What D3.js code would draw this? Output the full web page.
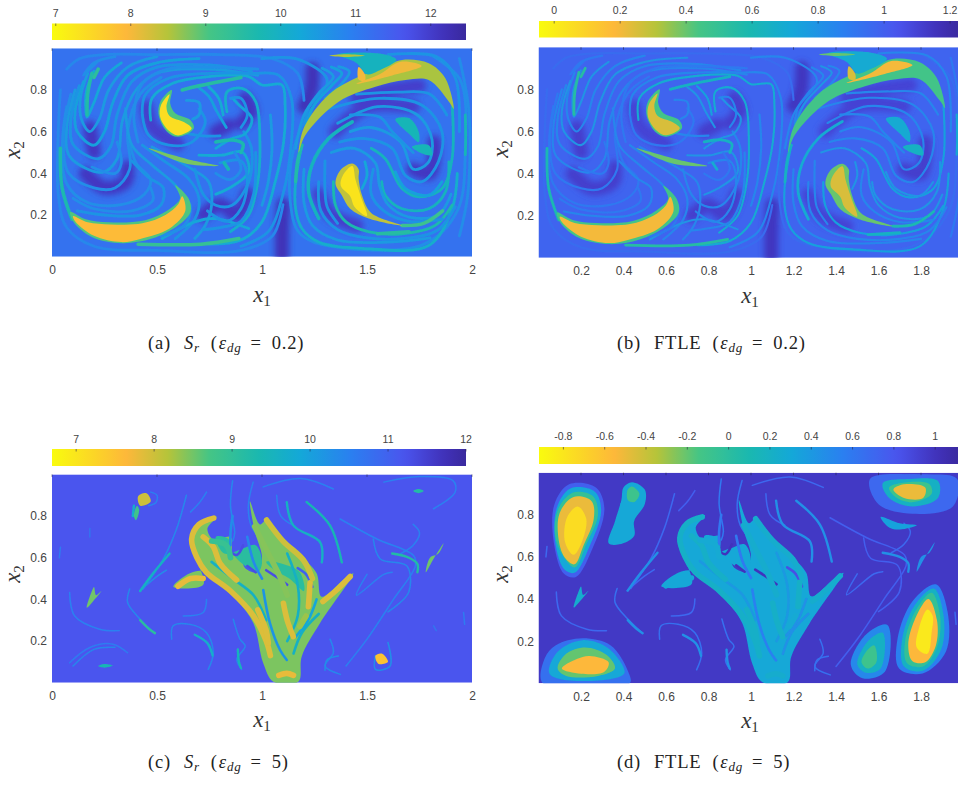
<!DOCTYPE html>
<html><head><meta charset="utf-8">
<script src="https://cdn.jsdelivr.net/npm/d3@7"></script>
<style>html,body{margin:0;padding:0;background:#fff;overflow:hidden}svg{display:block}</style>
</head><body><svg id="fig" width="958" height="785"></svg>
<script>
// ---------- values ----------
// Row format: [value in panel 1, value in panel 2, x1, x2, x1, x2, ...]
const topShade = [
 [12.2,1.15, 1.095,0.0,1.095,0.1,1.1,0.25],
 [12.2,1.15, 1.2,.72,1.235,.8,1.24,.9],
 [12.1,1.12, .16,.4,.25,.33,.35,.36,.36,.43],
 [12.1,1.12, .18,.62,.2,.5],
 [12.1,1.12, .72,.2,.8,.25,.88,.2,.93,.3],
 [12.1,1.12, .9,.64,.95,.7,.92,.76],
 [12.1,1.12, .78,.6,.84,.63],
 [12,1.1, 1.35,.6,1.5,.72,1.72,.72],
 [12,1.1, 1.27,.3,1.33,.2,1.45,.15],
 [12.1,1.12, 1.72,.42,1.8,.4,1.82,.55],
 [12,1.1, .45,.72,.48,.62,.6,.54],
 [12,1.1, 1.45,.76,1.6,.8,1.75,.82]
];
const topThin = [
 [10.3,.8, .2,.89,.165,.8,.16,.72,.167,.67,.2,.74,.25,.86,.33,.93],
 [10.5,.85, .17,.88,.135,.76,.14,.66,.18,.6,.225,.66,.27,.8,.36,.91,.5,.96],
 [10.4,.8, .15,.84,.11,.7,.12,.6,.2,.535,.25,.6,.29,.74,.36,.87,.5,.93,.7,.95],
 [10.6,.85, .13,.82,.09,.66,.1,.54,.22,.47,.28,.53,.31,.68,.38,.84,.5,.91,.75,.92,.95,.89],
 [10.5,.85, .11,.8,.07,.62,.085,.48,.24,.405,.31,.47,.335,.65,.4,.8,.5,.88,.75,.9,.98,.87],
 [10.7,.9, .09,.78,.055,.58,.08,.4,.2,.33,.3,.33,.37,.42,.36,.6,.42,.78,.52,.86],
 [10.7,.9, .07,.72,.05,.55,.07,.35,.17,.26,.33,.25,.44,.3,.47,.37,.4,.45,.37,.55],
 [10.8,.95, .07,.9,.13,.95,.25,.97,.5,.97,.8,.97,1.05,.95,1.17,.88,1.2,.75],
 [10.8,.95, .04,.8,.03,.6,.03,.3,.07,.14,.2,.05,.5,.03,.9,.03,1.05,.1,1.1,.25],
 [10.2,.7, .47,.655,.476,.76,.57,.83,.746,.864,.937,.864,1,.824,1.095,.824,1.11,.727,1.103,.55,1.063,.36,1,.167,.9,.08,.75,.06],
 [10.6,.85, .43,.68,.444,.776,.556,.856,.75,.88,.95,.88,1.08,.87,1.14,.76,1.14,.55,1.1,.3,1.03,.12,.9,.05],
 [10.6,.9, .7,.71,.73,.647,.667,.55,.556,.535,.46,.583,.43,.68],
 [10.5,.85, .35,.71,.38,.535,.476,.44,.587,.343,.62,.28,.6,.2,.5,.15],
 [10.6,.85, .43,.535,.54,.455,.65,.375,.7,.28,.68,.18,.587,.087],
 [10.5,.85, .476,.527,.667,.42,.746,.36,.76,.247,.73,.15,.68,.087],
 [10.2,.8, .7,.487,.81,.487,.905,.503,.937,.407,.84,.327,.78,.3],
 [10.6,.85, .913,.6,.95,.52,.937,.36,.857,.247,.78,.247,.72,.3,.68,.42],
 [10.1,.7, .833,.695,.833,.79,.905,.808,.97,.744,.99,.55,.98,.36,.937,.2,.85,.12],
 [10.4,.8, .7,.81,.746,.77,.786,.695,.83,.62],
 [10.2,.75, .746,.815,.794,.76,.815,.68],
 [10.3,.8, .78,.52,.857,.567,.92,.59,.952,.663,.89,.728,.86,.76],
 [10.6,.85, .85,.76,.9,.76,.93,.68,.9,.62],
 [10.3,.8, .524,.087,.68,.167,.778,.183,.937,.135],
 [10.6,.85, .72,.13,.8,.14,.9,.17,.96,.3,.97,.5],
 [10.6,.85, .74,.22,.83,.17,.9,.23,.93,.38,.9,.46,.8,.45],
 [10.7,.9, .78,.4,.85,.37,.9,.42,.87,.5],
 [10.6,.85, .12,.22,.25,.2,.42,.2,.52,.25,.53,.33,.46,.38,.38,.46],
 [10.7,.9, .1,.28,.2,.23,.38,.22,.48,.27,.47,.33],
 [10.5,.85, .64,.75,.7,.74,.7,.68,.67,.66],
 [10.7,.9, .41,.55,.39,.68,.43,.83,.55,.9,.75,.91,.98,.9],
 [10.7,.9, .3,.96,.2,.93,.15,.87,.22,.94],
 [10.7,.9, .62,.3,.66,.24,.63,.15,.52,.1],
 [10.6,.85, .8,.58,.72,.58,.62,.6,.58,.63],
 [10.7,.9, .19,.43,.3,.4,.33,.45,.31,.55],
 // right gyre
 [10.7,.95, 1.34,.83,1.23,.7,1.15,.512,1.134,.272,1.18,.112,1.34,.048,1.77,.06,1.93,.22,1.968,.512,1.944,.848,1.817,.96],
 [10.5,.85, 1.04,.68,1.048,.52,1.03,.36,1,.247],
 [10.6,.85, 1,.95,1.16,.95,1.3,.87,1.31,.83,1.22,.71,1.206,.6],
 [10.5,.85, 1.365,.912,1.416,.888,1.38,.83,1.3,.76],
 [10.4,.8, 1.33,.91,1.38,.88,1.33,.82,1.25,.73,1.206,.615],
 [10.5,.85, 1.286,.904,1.34,.864,1.27,.784,1.2,.68,1.16,.52],
 [10.1,.75, 1.19,.535,1.16,.36,1.16,.23,1.19,.135,1.27,.07,1.476,.04,1.794,.054,1.905,.23,1.93,.4],
 [9.9,.75, 1.906,.72,1.905,.47,1.857,.327,1.746,.287,1.667,.327,1.587,.47,1.52,.52],
 [9.9,.8, 1.57,.36,1.587,.295,1.667,.23,1.794,.23,1.873,.31,1.89,.455],
 [9.7,.75, 1.34,.36,1.35,.247,1.4,.167,1.51,.119,1.667,.11,1.825,.15,1.905,.247],
 [10.4,.8, 1.635,.407,1.683,.327,1.794,.295,1.857,.36],
 [10.3,.8, 1.49,.455,1.5,.39,1.476,.327],
 [10.6,.85, 1.32,.71,1.556,.76,1.762,.727,1.857,.6,1.84,.455,1.762,.36,1.683,.39,1.62,.52,1.49,.567,1.37,.55],
 [10.5,.85, 1.36,.64,1.55,.72,1.74,.68,1.81,.56,1.79,.45,1.72,.42,1.66,.55,1.52,.62,1.42,.6],
 [10.6,.85, 1.27,.36,1.28,.22,1.36,.13,1.5,.09,1.7,.09,1.84,.13,1.92,.24],
 [10.5,.85, 1.2,.42,1.2,.26,1.24,.15,1.36,.08,1.6,.07,1.8,.09],
 [10.6,.85, 1.3,.46,1.3,.32,1.31,.24,1.36,.16],
 [10.5,.8, 1.33,.5,1.44,.52,1.54,.45,1.56,.34,1.6,.25,1.7,.19,1.84,.2,1.9,.3],
 [10.6,.85, 1.53,.42,1.52,.3,1.58,.22,1.7,.17,1.86,.18],
 [9.8,.7, 1.968,.68,1.97,.55,1.968,.49],
 [10.7,.9, 1.94,.95,1.985,.7,1.98,.3,1.94,.1],
 [10.6,.85, 1.6,.97,1.83,.96,1.92,.86,1.94,.6],
 [10.6,.85, 1.45,.78,1.65,.79,1.8,.78,1.88,.68],
 [10.6,.85, 1.42,.68,1.56,.67,1.62,.6,1.72,.5]
];
const topGreen = [
 [9.7,.6, .04,.52,.048,.33,.095,.18],
 [9.6,.55, .19,.88,.17,.78,.167,.68],
 [9.4,.55, .2,.86,.22,.9],
 [9.7,.65, .78,.55,.86,.56,.91,.54,.9,.5],
 [9.8,.7, .82,.45,.84,.42],
 [9.3,.55, .41,.06,.71,.06,.89,.087],
 [9.5,.65, .62,.8,.7,.82,.9,.86],
 [9.9,.7, 1.27,.183,1.222,.31,1.238,.44,1.317,.567,1.43,.647],
 [9.6,.65, 1.16,.36,1.17,.46,1.19,.535],
 [9.2,.6, 1.667,.15,1.77,.16,1.86,.22],
 [9.5,.65, 1.55,.11,1.7,.12]
];
const topSheets = [
 [9.0,.45, .587,.343,.65,.28,.66,.215,.6,.15,.476,.087,.333,.065,.19,.095,.103,.167,.087,.215,.16,.18,.27,.165,.444,.175,.555,.225,.61,.28],
 [7.9,.2, .62,.29,.635,.22,.56,.135,.42,.085,.33,.07,.2,.1,.11,.17,.1,.195,.17,.165,.28,.155,.43,.16,.54,.2,.6,.25],
 [9.0,.45, .57,.8,.516,.744,.508,.68,.548,.6,.6,.575,.675,.615,.66,.655,.587,.688,.563,.735],
 [7.4,.25, .56,.78,.52,.73,.515,.67,.555,.605,.6,.582,.665,.615,.63,.645,.56,.675,.545,.72],
 [8.8,.4, .46,.52,.635,.447,.794,.436,.667,.463,.524,.503],
 [8.55,.45, 1.175,.5,1.206,.583,1.365,.744,1.54,.816,1.683,.848,1.794,.848,1.89,.744,1.913,.71,1.873,.856,1.794,.928,1.667,.944,1.57,.904,1.46,.864,1.32,.78,1.2,.62],
 [8.05,.2, 1.45,.83,1.56,.875,1.66,.935,1.76,.915,1.62,.87],
 [9.9,.7, 1.36,.97,1.56,.975,1.64,.945,1.55,.89,1.5,.875,1.45,.93],
 [8.5,.4, 1.32,.965,1.4,.972,1.49,.965,1.4,.958],
 [8.0,.25, 1.46,.91,1.49,.875,1.49,.845,1.46,.85],
 [8.4,.4, 1.43,.447,1.373,.415,1.35,.35,1.38,.295,1.42,.23,1.508,.183,1.667,.15,1.52,.21,1.476,.295,1.46,.375,1.46,.42],
 [7.3,.25, 1.43,.435,1.385,.39,1.375,.34,1.42,.29,1.44,.24,1.5,.195,1.47,.29,1.445,.37],
 [9.8,.7, 1.635,.66,1.7,.665,1.746,.6,1.746,.55,1.7,.59],
 [9.8,.65, 1.714,.527,1.794,.535,1.81,.487,1.746,.503]
];
const bottomThin = [
 [10.4,.65, .37,.45,.36,.385,.42,.305,.49,.238],
 [10.5,.7, .084,.433,.108,.32,.227,.257,.32,.25],
 [10.6,.7, .084,.096,.18,.169,.29,.185,.36,.144],
 [10.4,.65, .57,.209,.577,.273,.657,.28,.736,.24,.768,.144,.744,.064],
 [10.5,.7, .625,.32,.72,.337,.736,.4],
 [10.4,.65, .863,.305,.895,.209,.92,.176,.88,.112,.903,.064],
 [10.4,.7, .64,.9,.593,.738,.53,.594,.434,.45],
 [10.5,.75, .736,.915,.704,.867,.66,.82],
 [10.5,.7, .47,.915,.5,.9,.495,.865,.46,.85],
 [10.6,.7, .04,.65,.035,.6],
 [10.7,.75, .18,.74,.18,.7],
 [10.3,.7, .417,.44,.5,.51,.545,.54],
 [10.5,.75, 1.58,.963,1.75,.99,1.91,.97,1.92,.915,1.817,.835],
 [10.5,.75, 1.372,.786,1.547,.69,1.722,.61,1.73,.56,1.626,.4,1.5,.209,1.4,.08],
 [10.4,.75, 1.53,.69,1.563,.594,1.69,.56,1.698,.433,1.6,.34],
 [10.5,.7, 1.006,.94,1.184,.98,1.34,.93],
 [10.5,.7, 1.07,.9,1.09,.8,1.16,.75],
 [10.4,.65, 1.324,.209,1.34,.144,1.3,.08,1.373,.04],
 [10.3,.65, 1.364,.128,1.31,.11,1.3,.06],
 [10.3,.65, 1.6,.193,1.61,.08,1.54,.064,1.54,.13],
 [10.6,.7, 1.96,.337,1.965,.28],
 [10.7,.75, 1.817,.273,1.83,.25],
 [10.5,.65, .958,.963,.935,.85,.95,.75,1.0,.68],
 [10.4,.6, .86,.97,.85,.85,.87,.72,.86,.68],
 [10.5,.7, 1.5,.52,1.45,.42,1.58,.52,1.62,.53],
 [10.5,.7, 1.66,.62,1.72,.66,1.75,.72,1.72,.76],
 [10.4,.65, .1,.08,.2,.16,.3,.17]
];
const bottomMid = [
 [9.4,.45, 1.213,.867,1.324,.754,1.38,.578],
 [9.6,.45, 1.118,.867,1.15,.754,1.277,.674,1.285,.578],
 [9.7,.5, .385,.8,.39,.85],
 [9.6,.45, .56,.62,.47,.51,.42,.44],
 [9.1,.45, .42,.3,.46,.26,.49,.238],
 [9.2,.45, 1.62,.62,1.7,.6,1.74,.57,1.74,.53],
 [9.7,.45, .68,.23,.74,.19,.765,.13],
 [9.5,.45, .885,.16,.89,.1,.9,.07]
];
const bottomSheets = [
 [8.45,.3, 1.054,.005,1.006,.093,.959,.285,.879,.397,.729,.533,.657,.525,.578,.461,.72,.47,.689,.589,.657,.685,.705,.773,.784,.797,.74,.74,.77,.685,.85,.70,.86,.62,.9,.59,.92,.55,.975,.53,1.0,.6,.965,.73,.943,.87,.99,.76,1.022,.781,1.102,.685,1.189,.605,1.26,.525,1.284,.413,1.387,.493,1.435,.525,1.276,.285,1.189,.125,1.173,.005],
 [9.1,.3, .78,.7,.84,.69,.86,.62,.92,.56,.98,.53,1.0,.58,.97,.66,.9,.64,.82,.62],
 [9.1,.3, 1.02,.58,1.1,.57,1.18,.53,1.2,.44,1.13,.5,1.06,.54],
 [8.5,.25, .166,.36,.19,.44,.2,.46,.21,.42,.235,.44,.195,.39],
 [8.0,.35, .41,.895,.45,.91,.47,.87,.42,.85],
 [8.8,.45, .405,.85,.39,.8,.4,.78,.415,.83],
 [9.4,.5, .22,.08,.25,.09,.29,.082,.25,.072],
 [9.2,.5, 1.72,.92,1.745,.93,1.77,.92,1.745,.91],
 [8.5,.45, 1.865,.67,1.82,.6,1.78,.53,1.8,.6,1.84,.62],
 [7.5,.35, 1.54,.13,1.57,.14,1.6,.1,1.555,.09]
];
const bottomChannels = [
 [10.2,.55, 1.006,.445,1.038,.285,1.086,.157,1.118,.109],
 [9.6,.45, 1.15,.14,1.19,.24,1.27,.33],
 [11.3,1.0, 1.02,.54,1.08,.5,1.12,.47],
 [11.3,1.0, .84,.637,.88,.613,.91,.66],
 [11.3,1.0, .93,.56,.97,.53],
 [10.3,.6, .86,.8,.85,.72,.85,.66],
 [10.4,.6, .93,.7,.96,.58,1.0,.5],
 [11.0,.85, 1.17,.55,1.21,.52,1.24,.46],
 [9.6,.4, .76,.58,.86,.5,.96,.42,1.02,.3],
 [9.6,.4, 1.12,.62,1.17,.47,1.17,.32,1.12,.2],
 [9.9,.45, 1.26,.4,1.22,.3,1.16,.22]
];
const bottomStreaks = [
 [7.9,.22, .77,.79,.7,.76,.665,.69,.69,.6,.735,.53,.85,.44,.96,.32,1.02,.2,1.04,.13],
 [7.9,.22, .72,.7,.768,.653,.8,.573,.879,.493],
 [7.9,.22, .98,.35,1.02,.25,1.03,.19],
 [7.9,.22, 1.102,.381,1.12,.3,1.149,.221],
 [7.9,.22, 1.229,.48,1.221,.365],
 [7.9,.25, 1.42,.51,1.35,.44,1.29,.39],
 [7.8,.3, .6,.463,.66,.5,.72,.5],
 [7.8,.25, 1.08,.035,1.118,.045,1.15,.035],
 [8.0,.25, 1.022,.781,1.1,.68,1.197,.589,1.24,.5],
 [8.4,.25, .965,.75,1.03,.62,1.08,.52,1.12,.42],
 [8.9,.28, .76,.68,.83,.66,.85,.6],
 [8.3,.28, 1.21,.32,1.18,.27]
];
const fourthPanelBlobs = [
 // upper-left vortex
 [.75,.074,.657,.074,.847,.144,.945,.27,.93,.31,.83,.25,.63,.176,.505,.12,.52],
 [.3,.08,.66,.085,.83,.15,.925,.265,.91,.295,.82,.24,.65,.17,.525,.122,.54],
 [-.05,.085,.67,.09,.82,.16,.905,.255,.89,.28,.8,.225,.66,.17,.55],
 [-.5,.095,.68,.1,.81,.165,.885,.25,.865,.26,.78,.21,.65,.17,.565,.125,.595],
 [-.75,.125,.67,.135,.79,.185,.84,.225,.78,.2,.66,.165,.61],
 // comma above
 [.3,.4,.93,.44,.955,.5,.92,.5,.85,.45,.77,.45,.7,.38,.66,.33,.665,.36,.77,.39,.87],
 [-.1,.42,.92,.44,.935,.475,.9,.45,.86,.42,.87],
 // lower-left vortex
 [.65,.02,.0,.03,.12,.08,.18,.207,.214,.34,.18,.42,.06,.43,.0],
 [.3,.05,.05,.09,.15,.207,.205,.33,.165,.405,.05,.34,.02,.1,.02],
 [-.2,.09,.07,.13,.14,.22,.17,.32,.135,.36,.07,.28,.035,.13,.035],
 [-.55,.11,.07,.18,.115,.24,.13,.33,.1,.31,.055,.2,.045],
 // upper-right vortex
 [.7,1.56,.97,1.6,.85,1.76,.805,1.95,.84,1.97,.97,1.8,.99],
 [.2,1.62,.95,1.65,.88,1.76,.84,1.88,.88,1.88,.96,1.75,.97],
 [-.1,1.65,.93,1.68,.885,1.76,.86,1.85,.9,1.84,.945,1.74,.955],
 [-.5,1.67,.92,1.72,.88,1.81,.88,1.82,.93,1.72,.945],
 // lower-right tall vortex
 [.55,1.87,.47,1.76,.39,1.69,.214,1.697,.07,1.807,.047,1.917,.15,1.925,.34],
 [.2,1.86,.45,1.77,.37,1.71,.2,1.72,.08,1.81,.06,1.895,.16,1.905,.33],
 [-.05,1.85,.43,1.775,.345,1.725,.2,1.735,.095,1.81,.08,1.875,.17,1.89,.32],
 [-.55,1.835,.4,1.77,.3,1.74,.18,1.76,.105,1.82,.1,1.87,.18,1.875,.3],
 [-.82,1.83,.35,1.79,.26,1.78,.17,1.83,.14,1.85,.24,1.855,.32],
 // lower-middle vortex
 [.5,1.642,.277,1.54,.23,1.47,.087,1.525,.024,1.63,.055],
 [.2,1.62,.24,1.55,.2,1.5,.09,1.54,.05,1.61,.07],
 [-.1,1.58,.18,1.55,.16,1.52,.1,1.55,.07,1.59,.1],
 // small tongues
 [.35,1.61,.79,1.7,.76,1.78,.75,1.7,.73,1.65,.74]
];
const xTicksWide = [0,0.5,1,1.5,2];
const xTicksFine = [0.2,0.4,0.6,0.8,1,1.2,1.4,1.6,1.8];
const yTicks = [0.2,0.4,0.6,0.8];
const cbarTicksA = [7,8,9,10,11,12];
const cbarTicksB = [0,0.2,0.4,0.6,0.8,1,1.2];
const cbarTicksC = [7,8,9,10,11,12];
const cbarTicksD = [-0.8,-0.6,-0.4,-0.2,0,0.2,0.4,0.6,0.8,1];
const cbarExtentA = [6.95,12.47], cbarExtentB = [-0.046,1.23], cbarExtentC = [6.69,12], cbarExtentD = [-0.918,1.12];
const colourStops = [0,.18,.28,.38,.5,.6,.72,.85,.95,1];
const colourValues = ["#f9fb0e","#fdb83a","#b5c43a","#45c585","#1ab8b0","#14a8d8","#2a80f0","#4a55ee","#4030b8","#3a2a9e"];
const backgrounds = [11.15,0.98,11.2,0.97];
const captions = [["(a)","S","r","0.2"],["(b)","FTLE","","0.2"],["(c)","S","r","5"],["(d)","FTLE","","5"]];

// ---------- drawing ----------
const svg = d3.select("#fig");
const defs = svg.append("defs");
const blur = defs.append("filter").attr("id","soft").attr("x","-5%").attr("y","-5%").attr("width","110%").attr("height","110%");
blur.append("feGaussianBlur").attr("stdDeviation",0.75);
const blurWide = defs.append("filter").attr("id","wide").attr("x","-30%").attr("y","-30%").attr("width","160%").attr("height","160%");
blurWide.append("feGaussianBlur").attr("stdDeviation",3);

const sans = "'Liberation Sans',Arial,sans-serif", serif = "'Liberation Serif','DejaVu Serif',serif";
const rows = [
 {id:"a",px:[52,472],py:[256.7,48.3],xt:xTicksWide,cb:[52,466,23.5,40],ext:cbarExtentA,ct:cbarTicksA,ctY:13,xtY:270,xl:[262,296],yl:[14,150],ytX:47,top:true,col:0,cap:[148,349],line:2.8},
 {id:"b",px:[538.5,963.5],py:[257.8,47.2],xt:xTicksFine,cb:[539,960,21,37.5],ext:cbarExtentB,ct:cbarTicksB,ctY:10,xtY:271,xl:[750,297],yl:[502,149],ytX:534,top:true,col:1,cap:[617,349],line:2.1},
 {id:"c",px:[52,472],py:[682.7,474.4],xt:xTicksWide,cb:[52,466,449,466],ext:cbarExtentC,ct:cbarTicksC,ctY:439,xtY:696,xl:[262,721],yl:[14,574],ytX:47,top:false,col:0,cap:[148,768],line:1.5},
 {id:"d",px:[538.5,963.5],py:[683.3,472.7],xt:xTicksFine,cb:[539,960,447,464],ext:cbarExtentD,ct:cbarTicksD,ctY:436,xtY:697,xl:[750,722],yl:[502,574],ytX:534,top:false,col:1,cap:[617,768],line:1.5}
];
const pts = r => d3.range(2,r.length,2).map(i=>[r[i],r[i+1]]);

rows.forEach((p,idx)=>{
  const x = d3.scaleLinear().domain([0,2]).range(p.px);
  const y = d3.scaleLinear().domain([0,1]).range(p.py);
  const c = d3.scaleLinear().domain(colourStops.map(t=>p.ext[0]+t*(p.ext[1]-p.ext[0]))).range(colourValues).clamp(true);
  const pick = r => c(r[p.col]);
  const open = d3.line().x(d=>x(d[0])).y(d=>y(d[1])).curve(d3.curveCatmullRom.alpha(.5));
  const closed = d3.line().x(d=>x(d[0])).y(d=>y(d[1])).curve(d3.curveCatmullRomClosed.alpha(.5));

  // colour bar
  const cbx = d3.scaleLinear().domain(p.ext).range([p.cb[0],p.cb[1]]);
  const g = svg.append("g").attr("class","colorbar");
  const grad = defs.append("linearGradient").attr("id","cb"+p.id);
  d3.range(0,1.0001,0.02).forEach(t=>{
    grad.append("stop").attr("offset",t).attr("stop-color",c(p.ext[0]+t*(p.ext[1]-p.ext[0])));
  });
  g.append("rect").attr("x",p.cb[0]).attr("y",p.cb[2]).attr("width",p.cb[1]-p.cb[0]).attr("height",p.cb[3]-p.cb[2]).attr("fill",`url(#cb${p.id})`);
  g.selectAll("line").data(p.ct).join("line").attr("x1",cbx).attr("x2",cbx).attr("y1",p.cb[2]).attr("y2",p.cb[2]+2.5).attr("stroke","#224").attr("stroke-opacity",.55);
  g.selectAll("text").data(p.ct).join("text").attr("x",cbx).attr("y",p.ctY).attr("dy","0.35em").attr("text-anchor","middle")
    .attr("font-family",sans).attr("font-size",10.5).attr("fill","#444").text(d=>d);

  // field
  const clipId = "clip"+p.id;
  defs.append("clipPath").attr("id",clipId).append("rect").attr("x",p.px[0]).attr("y",p.py[1]).attr("width",p.px[1]-p.px[0]).attr("height",p.py[0]-p.py[1]);
  const field = svg.append("g").attr("clip-path",`url(#${clipId})`);
  field.append("rect").attr("x",p.px[0]).attr("y",p.py[1]).attr("width",p.px[1]-p.px[0]).attr("height",p.py[0]-p.py[1]).attr("fill",c(backgrounds[idx]));
  const wide = field.append("g").attr("filter","url(#wide)");
  const soft = field.append("g").attr("filter","url(#soft)");
  const strokes = (layer,data,w) => layer.append("g").selectAll("path").data(data).join("path").attr("d",r=>open(pts(r))).attr("fill","none").attr("stroke",pick).attr("stroke-width",w).attr("stroke-linecap","round").attr("stroke-linejoin","round");
  const sheets = (layer,data) => layer.append("g").selectAll("path").data(data).join("path").attr("d",r=>closed(pts(r))).attr("fill",pick);
  if(p.top){
    strokes(wide,topShade,14);
    strokes(soft,topThin,p.line);
    strokes(soft,topGreen,p.line+.7);
    sheets(soft,topSheets);
  } else {
    strokes(soft,bottomThin,p.line);
    strokes(soft,bottomMid,2.4);
    sheets(soft,bottomSheets);
    strokes(soft,bottomChannels,2.6);
    strokes(soft,bottomStreaks,5.6);
    if(p.id==="d"){
      soft.append("g").selectAll("path").data(fourthPanelBlobs).join("path")
        .attr("d",r=>closed(d3.range(1,r.length,2).map(i=>[r[i],r[i+1]]))).attr("fill",r=>c(r[0]));
    }
  }
  // frame ticks and axes
  const axB = svg.append("g").attr("transform",`translate(0,${p.py[0]})`).call(d3.axisBottom(x).tickValues(p.xt).tickSize(0).tickFormat(d=>d));
  axB.select(".domain").remove();
  axB.selectAll("text").attr("y",p.xtY-p.py[0]).attr("dy","0.35em").attr("font-family",sans).attr("font-size",12).attr("fill","#444");
  const axL = svg.append("g").attr("transform",`translate(${p.px[0]},0)`).call(d3.axisLeft(y).tickValues(yTicks).tickSize(0).tickFormat(d=>d));
  axL.select(".domain").remove();
  axL.selectAll("text").attr("x",p.ytX-p.px[0]).attr("font-family",sans).attr("font-size",12).attr("fill","#444");
  svg.append("g").selectAll("line").data(p.xt).join("line").attr("x1",x).attr("x2",x).attr("y1",p.py[1]).attr("y2",p.py[1]+2.5).attr("stroke","#223").attr("stroke-opacity",.5);

  // axis titles
  const xl = svg.append("text").attr("x",p.xl[0]).attr("y",p.xl[1]+6).attr("text-anchor","middle").attr("font-family",serif).attr("fill","#333");
  xl.append("tspan").attr("font-style","italic").attr("font-size",23).text("x");
  xl.append("tspan").attr("font-size",15).attr("dy",4).text("1");
  const yl = svg.append("text").attr("transform",`translate(${p.yl[0]+6},${p.yl[1]}) rotate(-90)`).attr("text-anchor","middle").attr("font-family",serif).attr("fill","#333");
  yl.append("tspan").attr("font-style","italic").attr("font-size",23).text("x");
  yl.append("tspan").attr("font-size",15).attr("dy",4).text("2");

  // caption
  const [lab,name,sub,val] = captions[idx];
  const t = svg.append("text").attr("x",p.cap[0]).attr("y",p.cap[1]).attr("font-family",serif).attr("font-size",18.5).attr("letter-spacing",.8).attr("fill","#222");
  t.append("tspan").text(lab);
  const nm = t.append("tspan").attr("dx",13).text(name);
  if(sub){
    nm.attr("font-style","italic");
    t.append("tspan").attr("font-style","italic").attr("font-size",13).attr("dy",3).text(sub);
    t.append("tspan").attr("dy",-3).attr("dx",11).text("(");
  } else t.append("tspan").attr("dx",11).text("(");
  t.append("tspan").attr("font-style","italic").attr("dx",1).text("\u03b5");
  t.append("tspan").attr("font-style","italic").attr("font-size",13).attr("dy",3).text("dg");
  t.append("tspan").attr("dy",-3).attr("dx",9).text("=");
  t.append("tspan").attr("dx",10).text(val+")");
});
</script></body></html>
